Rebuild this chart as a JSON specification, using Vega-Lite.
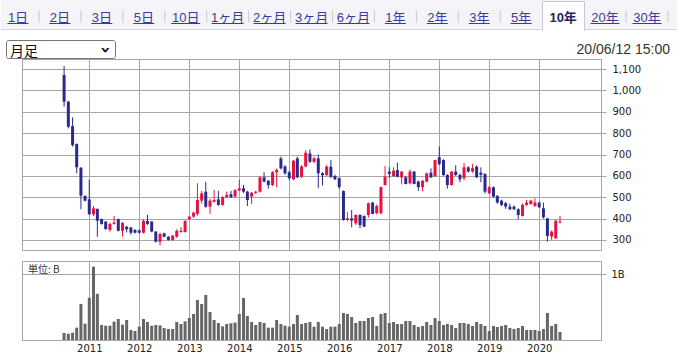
{
  "$schema": "https://vega.github.io/schema/vega-lite/v6.json",
  "padding": 0,
  "background": "white",
  "bounds": "flush",
  "spacing": 11,
  "resolve": {"scale": {"x": "independent", "y": "independent"}},
  "config": {
    "view": {"stroke": "#a6a6a6"},
    "font": "DejaVu Sans",
    "axis": {"gridColor": "#a6a6a6", "gridOpacity": 1, "tickColor": "#a6a6a6", "labelColor": "#222222", "labelFontSize": 10, "labelFont": "DejaVu Sans", "domain": false, "labelFlush": false, "labelOverlap": false}
  },
  "datasets": {
    "one": [{"k": 1}],
    "tabs": [
      {"i": 0, "tab": "1日"}, {"i": 1, "tab": "2日"}, {"i": 2, "tab": "3日"}, {"i": 3, "tab": "5日"},
      {"i": 4, "tab": "10日"}, {"i": 5, "tab": "1ヶ月"}, {"i": 6, "tab": "2ヶ月"}, {"i": 7, "tab": "3ヶ月"},
      {"i": 8, "tab": "6ヶ月"}, {"i": 9, "tab": "1年"}, {"i": 10, "tab": "2年"}, {"i": 11, "tab": "3年"},
      {"i": 12, "tab": "5年"}, {"i": 13, "tab": "10年"}, {"i": 14, "tab": "20年"}, {"i": 15, "tab": "30年"}
    ],
    "m": [
      {"d": "2010/07/01", "o": 1072, "h": 1114, "l": 924, "c": 947, "v": 0.106},
      {"d": "2010/08/01", "o": 947, "h": 952, "l": 822, "c": 830, "v": 0.096},
      {"d": "2010/09/01", "o": 833, "h": 874, "l": 737, "c": 744, "v": 0.11},
      {"d": "2010/10/01", "o": 749, "h": 752, "l": 612, "c": 640, "v": 0.187},
      {"d": "2010/11/01", "o": 638, "h": 641, "l": 444, "c": 507, "v": 0.545},
      {"d": "2010/12/01", "o": 506, "h": 509, "l": 480, "c": 484, "v": 0.247},
      {"d": "2011/01/01", "o": 490, "h": 581, "l": 418, "c": 420, "v": 0.64},
      {"d": "2011/02/01", "o": 420, "h": 459, "l": 412, "c": 448, "v": 1.11},
      {"d": "2011/03/01", "o": 445, "h": 448, "l": 315, "c": 390, "v": 0.70},
      {"d": "2011/04/01", "o": 398, "h": 400, "l": 372, "c": 375, "v": 0.227},
      {"d": "2011/05/01", "o": 386, "h": 388, "l": 348, "c": 351, "v": 0.217},
      {"d": "2011/06/01", "o": 347, "h": 380, "l": 339, "c": 375, "v": 0.217},
      {"d": "2011/07/01", "o": 375, "h": 412, "l": 372, "c": 381, "v": 0.278},
      {"d": "2011/08/01", "o": 397, "h": 400, "l": 340, "c": 343, "v": 0.318},
      {"d": "2011/09/01", "o": 343, "h": 384, "l": 315, "c": 379, "v": 0.232},
      {"d": "2011/10/01", "o": 362, "h": 366, "l": 335, "c": 350, "v": 0.303},
      {"d": "2011/11/01", "o": 358, "h": 362, "l": 325, "c": 334, "v": 0.152},
      {"d": "2011/12/01", "o": 347, "h": 350, "l": 330, "c": 334, "v": 0.136},
      {"d": "2012/01/01", "o": 345, "h": 348, "l": 330, "c": 334, "v": 0.202},
      {"d": "2012/02/01", "o": 334, "h": 397, "l": 330, "c": 389, "v": 0.318},
      {"d": "2012/03/01", "o": 389, "h": 417, "l": 370, "c": 375, "v": 0.273},
      {"d": "2012/04/01", "o": 386, "h": 388, "l": 336, "c": 339, "v": 0.217},
      {"d": "2012/05/01", "o": 339, "h": 342, "l": 288, "c": 292, "v": 0.227},
      {"d": "2012/06/01", "o": 292, "h": 334, "l": 275, "c": 328, "v": 0.222},
      {"d": "2012/07/01", "o": 331, "h": 334, "l": 312, "c": 315, "v": 0.182},
      {"d": "2012/08/01", "o": 315, "h": 318, "l": 297, "c": 300, "v": 0.167},
      {"d": "2012/09/01", "o": 300, "h": 323, "l": 297, "c": 320, "v": 0.167},
      {"d": "2012/10/01", "o": 315, "h": 350, "l": 310, "c": 343, "v": 0.273},
      {"d": "2012/11/01", "o": 337, "h": 360, "l": 334, "c": 343, "v": 0.242},
      {"d": "2012/12/01", "o": 337, "h": 392, "l": 335, "c": 389, "v": 0.283},
      {"d": "2013/01/01", "o": 397, "h": 412, "l": 395, "c": 409, "v": 0.333},
      {"d": "2013/02/01", "o": 409, "h": 432, "l": 404, "c": 428, "v": 0.394},
      {"d": "2013/03/01", "o": 422, "h": 565, "l": 414, "c": 487, "v": 0.606},
      {"d": "2013/04/01", "o": 484, "h": 530, "l": 470, "c": 518, "v": 0.545},
      {"d": "2013/05/01", "o": 526, "h": 572, "l": 450, "c": 456, "v": 0.682},
      {"d": "2013/06/01", "o": 456, "h": 492, "l": 422, "c": 484, "v": 0.424},
      {"d": "2013/07/01", "o": 479, "h": 534, "l": 475, "c": 487, "v": 0.303},
      {"d": "2013/08/01", "o": 490, "h": 530, "l": 460, "c": 464, "v": 0.258},
      {"d": "2013/09/01", "o": 464, "h": 505, "l": 460, "c": 500, "v": 0.207},
      {"d": "2013/10/01", "o": 500, "h": 526, "l": 496, "c": 511, "v": 0.242},
      {"d": "2013/11/01", "o": 514, "h": 530, "l": 496, "c": 500, "v": 0.253},
      {"d": "2013/12/01", "o": 503, "h": 537, "l": 500, "c": 534, "v": 0.263},
      {"d": "2014/01/01", "o": 531, "h": 581, "l": 528, "c": 542, "v": 0.394},
      {"d": "2014/02/01", "o": 542, "h": 558, "l": 520, "c": 526, "v": 0.636},
      {"d": "2014/03/01", "o": 526, "h": 530, "l": 459, "c": 487, "v": 0.364},
      {"d": "2014/04/01", "o": 503, "h": 525, "l": 468, "c": 521, "v": 0.273},
      {"d": "2014/05/01", "o": 521, "h": 530, "l": 515, "c": 526, "v": 0.227},
      {"d": "2014/06/01", "o": 526, "h": 598, "l": 522, "c": 593, "v": 0.273},
      {"d": "2014/07/01", "o": 593, "h": 617, "l": 570, "c": 573, "v": 0.258},
      {"d": "2014/08/01", "o": 577, "h": 580, "l": 540, "c": 557, "v": 0.187},
      {"d": "2014/09/01", "o": 557, "h": 622, "l": 553, "c": 617, "v": 0.187},
      {"d": "2014/10/01", "o": 617, "h": 635, "l": 546, "c": 628, "v": 0.303},
      {"d": "2014/11/01", "o": 682, "h": 690, "l": 630, "c": 635, "v": 0.242},
      {"d": "2014/12/01", "o": 644, "h": 650, "l": 605, "c": 612, "v": 0.217},
      {"d": "2015/01/01", "o": 617, "h": 625, "l": 580, "c": 589, "v": 0.202},
      {"d": "2015/02/01", "o": 584, "h": 675, "l": 580, "c": 671, "v": 0.242},
      {"d": "2015/03/01", "o": 682, "h": 690, "l": 590, "c": 593, "v": 0.379},
      {"d": "2015/04/01", "o": 596, "h": 650, "l": 590, "c": 644, "v": 0.242},
      {"d": "2015/05/01", "o": 644, "h": 720, "l": 640, "c": 708, "v": 0.258},
      {"d": "2015/06/01", "o": 705, "h": 724, "l": 660, "c": 666, "v": 0.273},
      {"d": "2015/07/01", "o": 666, "h": 690, "l": 660, "c": 682, "v": 0.202},
      {"d": "2015/08/01", "o": 682, "h": 700, "l": 542, "c": 612, "v": 0.273},
      {"d": "2015/09/01", "o": 612, "h": 618, "l": 555, "c": 603, "v": 0.202},
      {"d": "2015/10/01", "o": 604, "h": 650, "l": 600, "c": 643, "v": 0.167},
      {"d": "2015/11/01", "o": 643, "h": 675, "l": 590, "c": 596, "v": 0.202},
      {"d": "2015/12/01", "o": 599, "h": 605, "l": 580, "c": 584, "v": 0.202},
      {"d": "2016/01/01", "o": 589, "h": 592, "l": 540, "c": 547, "v": 0.242},
      {"d": "2016/02/01", "o": 529, "h": 532, "l": 390, "c": 394, "v": 0.409},
      {"d": "2016/03/01", "o": 394, "h": 430, "l": 388, "c": 401, "v": 0.394},
      {"d": "2016/04/01", "o": 401, "h": 440, "l": 360, "c": 391, "v": 0.348},
      {"d": "2016/05/01", "o": 378, "h": 420, "l": 370, "c": 417, "v": 0.258},
      {"d": "2016/06/01", "o": 417, "h": 420, "l": 355, "c": 370, "v": 0.288},
      {"d": "2016/07/01", "o": 412, "h": 415, "l": 360, "c": 362, "v": 0.288},
      {"d": "2016/08/01", "o": 417, "h": 475, "l": 405, "c": 472, "v": 0.333},
      {"d": "2016/09/01", "o": 475, "h": 478, "l": 420, "c": 422, "v": 0.348},
      {"d": "2016/10/01", "o": 425, "h": 466, "l": 420, "c": 459, "v": 0.212},
      {"d": "2016/11/01", "o": 425, "h": 550, "l": 420, "c": 547, "v": 0.394},
      {"d": "2016/12/01", "o": 557, "h": 646, "l": 555, "c": 596, "v": 0.409},
      {"d": "2017/01/01", "o": 620, "h": 640, "l": 590, "c": 609, "v": 0.258},
      {"d": "2017/02/01", "o": 599, "h": 640, "l": 595, "c": 624, "v": 0.273},
      {"d": "2017/03/01", "o": 627, "h": 661, "l": 594, "c": 596, "v": 0.242},
      {"d": "2017/04/01", "o": 593, "h": 622, "l": 560, "c": 620, "v": 0.242},
      {"d": "2017/05/01", "o": 593, "h": 600, "l": 560, "c": 562, "v": 0.288},
      {"d": "2017/06/01", "o": 565, "h": 630, "l": 560, "c": 620, "v": 0.288},
      {"d": "2017/07/01", "o": 620, "h": 622, "l": 560, "c": 562, "v": 0.227},
      {"d": "2017/08/01", "o": 573, "h": 578, "l": 530, "c": 547, "v": 0.197},
      {"d": "2017/09/01", "o": 547, "h": 580, "l": 528, "c": 577, "v": 0.212},
      {"d": "2017/10/01", "o": 573, "h": 614, "l": 570, "c": 612, "v": 0.273},
      {"d": "2017/11/01", "o": 615, "h": 635, "l": 590, "c": 593, "v": 0.227},
      {"d": "2017/12/01", "o": 599, "h": 676, "l": 595, "c": 674, "v": 0.333},
      {"d": "2018/01/01", "o": 687, "h": 737, "l": 650, "c": 655, "v": 0.288},
      {"d": "2018/02/01", "o": 674, "h": 678, "l": 600, "c": 604, "v": 0.227},
      {"d": "2018/03/01", "o": 604, "h": 608, "l": 540, "c": 557, "v": 0.242},
      {"d": "2018/04/01", "o": 557, "h": 622, "l": 555, "c": 620, "v": 0.227},
      {"d": "2018/05/01", "o": 620, "h": 650, "l": 600, "c": 604, "v": 0.182},
      {"d": "2018/06/01", "o": 604, "h": 610, "l": 570, "c": 584, "v": 0.258},
      {"d": "2018/07/01", "o": 589, "h": 660, "l": 580, "c": 640, "v": 0.258},
      {"d": "2018/08/01", "o": 640, "h": 645, "l": 615, "c": 620, "v": 0.242},
      {"d": "2018/09/01", "o": 620, "h": 655, "l": 615, "c": 636, "v": 0.212},
      {"d": "2018/10/01", "o": 643, "h": 650, "l": 590, "c": 593, "v": 0.273},
      {"d": "2018/11/01", "o": 615, "h": 640, "l": 570, "c": 605, "v": 0.242},
      {"d": "2018/12/01", "o": 609, "h": 612, "l": 518, "c": 526, "v": 0.212},
      {"d": "2019/01/01", "o": 518, "h": 553, "l": 515, "c": 547, "v": 0.136},
      {"d": "2019/02/01", "o": 547, "h": 550, "l": 498, "c": 503, "v": 0.212},
      {"d": "2019/03/01", "o": 506, "h": 510, "l": 470, "c": 475, "v": 0.197},
      {"d": "2019/04/01", "o": 484, "h": 488, "l": 458, "c": 464, "v": 0.212},
      {"d": "2019/05/01", "o": 472, "h": 478, "l": 445, "c": 456, "v": 0.227},
      {"d": "2019/06/01", "o": 456, "h": 470, "l": 440, "c": 444, "v": 0.182},
      {"d": "2019/07/01", "o": 456, "h": 462, "l": 440, "c": 444, "v": 0.167},
      {"d": "2019/08/01", "o": 444, "h": 448, "l": 397, "c": 417, "v": 0.182},
      {"d": "2019/09/01", "o": 412, "h": 470, "l": 410, "c": 464, "v": 0.212},
      {"d": "2019/10/01", "o": 464, "h": 488, "l": 460, "c": 475, "v": 0.152},
      {"d": "2019/11/01", "o": 468, "h": 488, "l": 465, "c": 484, "v": 0.152},
      {"d": "2019/12/01", "o": 459, "h": 495, "l": 455, "c": 475, "v": 0.152},
      {"d": "2020/01/01", "o": 475, "h": 478, "l": 450, "c": 453, "v": 0.136},
      {"d": "2020/02/01", "o": 448, "h": 475, "l": 400, "c": 406, "v": 0.167},
      {"d": "2020/03/01", "o": 401, "h": 404, "l": 292, "c": 319, "v": 0.409},
      {"d": "2020/04/01", "o": 316, "h": 345, "l": 300, "c": 339, "v": 0.212},
      {"d": "2020/05/01", "o": 308, "h": 395, "l": 305, "c": 390, "v": 0.242},
      {"d": "2020/06/01", "o": 381, "h": 412, "l": 378, "c": 386, "v": 0.121}
    ]
  },
  "vconcat": [
    {
      "width": 579,
      "height": 48,
      "view": {"stroke": null},
      "layer": [
        {"data": {"name": "one"}, "mark": {"type": "rect", "fill": "#f4f4f9"},
         "encoding": {"x": {"value": -21}, "x2": {"value": 656}, "y": {"value": 0}, "y2": {"value": 29}}},
        {"data": {"name": "one"}, "mark": {"type": "rule", "color": "#d2d2dc"},
         "encoding": {"x": {"value": -21}, "x2": {"value": 656}, "y": {"value": 29.5}}},
        {"data": {"name": "one"}, "mark": {"type": "rect", "fill": "white", "stroke": "#c8c8d2", "strokeWidth": 1},
         "encoding": {"x": {"value": 520.5}, "x2": {"value": 562.5}, "y": {"value": 1.5}, "y2": {"value": 30.5}}},
        {"data": {"name": "one"}, "mark": {"type": "rule", "color": "white", "strokeWidth": 2},
         "encoding": {"x": {"value": 521}, "x2": {"value": 562}, "y": {"value": 30}}},
        {"data": {"name": "tabs"}, "transform": [{"filter": "datum.i != 12 && datum.i != 13"}],
         "mark": {"type": "rule", "color": "#c8c8d2", "xOffset": 21},
         "encoding": {"x": {"field": "i", "type": "quantitative", "scale": {"domain": [0, 15], "range": [-4, 625], "nice": false, "zero": false}, "axis": null},
                      "y": {"value": 10.5}, "y2": {"value": 22.5}}},
        {"data": {"name": "tabs"}, "transform": [{"filter": "datum.tab != '10年'"}],
         "mark": {"type": "text", "align": "center", "baseline": "alphabetic", "fontSize": 13, "font": "Liberation Sans, Noto Sans CJK JP", "color": "#3a3a9e"},
         "encoding": {"x": {"field": "i", "type": "quantitative"}, "y": {"value": 21.5}, "text": {"field": "tab"}}},
        {"data": {"name": "tabs"}, "transform": [{"filter": "datum.tab == '10年'"}],
         "mark": {"type": "text", "align": "center", "baseline": "alphabetic", "fontSize": 13, "fontWeight": "bold", "font": "Liberation Sans, Noto Sans CJK JP", "color": "#242466"},
         "encoding": {"x": {"field": "i", "type": "quantitative"}, "y": {"value": 21.5}, "text": {"field": "tab"}}},
        {"data": {"name": "tabs"}, "transform": [{"filter": "length(datum.tab) == 2"}],
         "mark": {"type": "rule", "color": "#3a3a9e", "xOffset": -10.5, "x2Offset": 10.5},
         "encoding": {"x": {"field": "i", "type": "quantitative"}, "x2": {"field": "i"}, "y": {"value": 23.5}}},
        {"data": {"name": "tabs"}, "transform": [{"filter": "datum.tab == '10日' || datum.tab == '20年' || datum.tab == '30年'"}],
         "mark": {"type": "rule", "color": "#3a3a9e", "xOffset": -14.5, "x2Offset": 14.5},
         "encoding": {"x": {"field": "i", "type": "quantitative"}, "x2": {"field": "i"}, "y": {"value": 23.5}}},
        {"data": {"name": "tabs"}, "transform": [{"filter": "indexof(datum.tab, 'ヶ') >= 0"}],
         "mark": {"type": "rule", "color": "#3a3a9e", "xOffset": -16, "x2Offset": 16},
         "encoding": {"x": {"field": "i", "type": "quantitative"}, "x2": {"field": "i"}, "y": {"value": 23.5}}},
        {"data": {"name": "one"}, "mark": {"type": "rect", "fill": "white", "stroke": "#767676", "strokeWidth": 1, "cornerRadius": 2},
         "encoding": {"x": {"value": -15.5}, "x2": {"value": 93.5}, "y": {"value": 40.5}, "y2": {"value": 58.5}}},
        {"data": {"name": "one"}, "mark": {"type": "text", "text": "月足", "align": "left", "baseline": "alphabetic", "fontSize": 14, "font": "Noto Sans CJK JP", "color": "#111111"},
         "encoding": {"x": {"value": -12}, "y": {"value": 55.5}}},
        {"data": {"name": "one"}, "mark": {"type": "text", "text": "›", "align": "center", "baseline": "middle", "fontSize": 17, "fontWeight": "bold", "angle": 90, "font": "DejaVu Sans", "color": "#111111"},
         "encoding": {"x": {"value": 83}, "y": {"value": 50}}},
        {"data": {"name": "one"}, "mark": {"type": "text", "text": "20/06/12 15:00", "align": "right", "baseline": "alphabetic", "fontSize": 14, "font": "Liberation Sans", "color": "#333333"},
         "encoding": {"x": {"value": 648}, "y": {"value": 53.5}}}
      ]
    },
    {
      "width": 579,
      "height": 191,
      "data": {"name": "m"},
      "encoding": {
        "x": {"field": "d", "type": "temporal",
              "scale": {"domain": [{"year": 2009, "month": 10, "date": 3}, {"year": 2021, "month": 2, "date": 19}]},
              "axis": {"title": null, "labels": false, "ticks": false, "grid": true, "tickCount": 20,
                       "values": [{"year": 2011, "month": 1, "date": 1}, {"year": 2012, "month": 1, "date": 1}, {"year": 2013, "month": 1, "date": 1}, {"year": 2014, "month": 1, "date": 1}, {"year": 2015, "month": 1, "date": 1}, {"year": 2016, "month": 1, "date": 1}, {"year": 2017, "month": 1, "date": 1}, {"year": 2018, "month": 1, "date": 1}, {"year": 2019, "month": 1, "date": 1}, {"year": 2020, "month": 1, "date": 1}]}},
        "color": {"condition": {"test": "datum.c > datum.o", "value": "#e8103f"}, "value": "#2a2a8c"}
      },
      "layer": [
        {"mark": {"type": "rule", "strokeWidth": 1},
         "encoding": {"y": {"field": "l", "type": "quantitative",
                            "scale": {"domain": [253, 1147], "nice": false, "zero": false},
                            "axis": {"title": null, "orient": "right", "values": [300, 400, 500, 600, 700, 800, 900, 1000, 1100], "tickCount": 20, "tickSize": 5, "labelPadding": 6, "grid": true, "format": ",d", "labelOverlap": false, "labelBound": false}},
                      "y2": {"field": "h"}}},
        {"mark": {"type": "bar", "size": 3},
         "encoding": {"y": {"field": "o", "type": "quantitative"}, "y2": {"field": "c"}}}
      ]
    },
    {
      "width": 579,
      "height": 79,
      "title": {"text": "単位: B", "anchor": "start", "frame": "group", "orient": "top", "offset": -22, "dx": 6, "fontSize": 10, "fontWeight": "normal", "font": "Noto Sans CJK JP", "color": "#333333", "baseline": "alphabetic"},
      "data": {"name": "m"},
      "mark": {"type": "bar", "size": 3, "color": "#666666"},
      "encoding": {
        "x": {"field": "d", "type": "temporal",
              "scale": {"domain": [{"year": 2009, "month": 10, "date": 3}, {"year": 2021, "month": 2, "date": 19}]},
              "axis": {"title": null, "ticks": false, "grid": true, "format": "%Y", "labelPadding": 3, "labelOverlap": false, "tickCount": 20,
                       "values": [{"year": 2011, "month": 1, "date": 1}, {"year": 2012, "month": 1, "date": 1}, {"year": 2013, "month": 1, "date": 1}, {"year": 2014, "month": 1, "date": 1}, {"year": 2015, "month": 1, "date": 1}, {"year": 2016, "month": 1, "date": 1}, {"year": 2017, "month": 1, "date": 1}, {"year": 2018, "month": 1, "date": 1}, {"year": 2019, "month": 1, "date": 1}, {"year": 2020, "month": 1, "date": 1}]}},
        "y": {"field": "v", "type": "quantitative",
              "scale": {"domain": [0, 1.197], "nice": false},
              "axis": {"title": null, "orient": "right", "values": [1], "labelExpr": "'1B'", "tickSize": 5, "labelPadding": 5, "grid": true}}
      }
    }
  ]
}
